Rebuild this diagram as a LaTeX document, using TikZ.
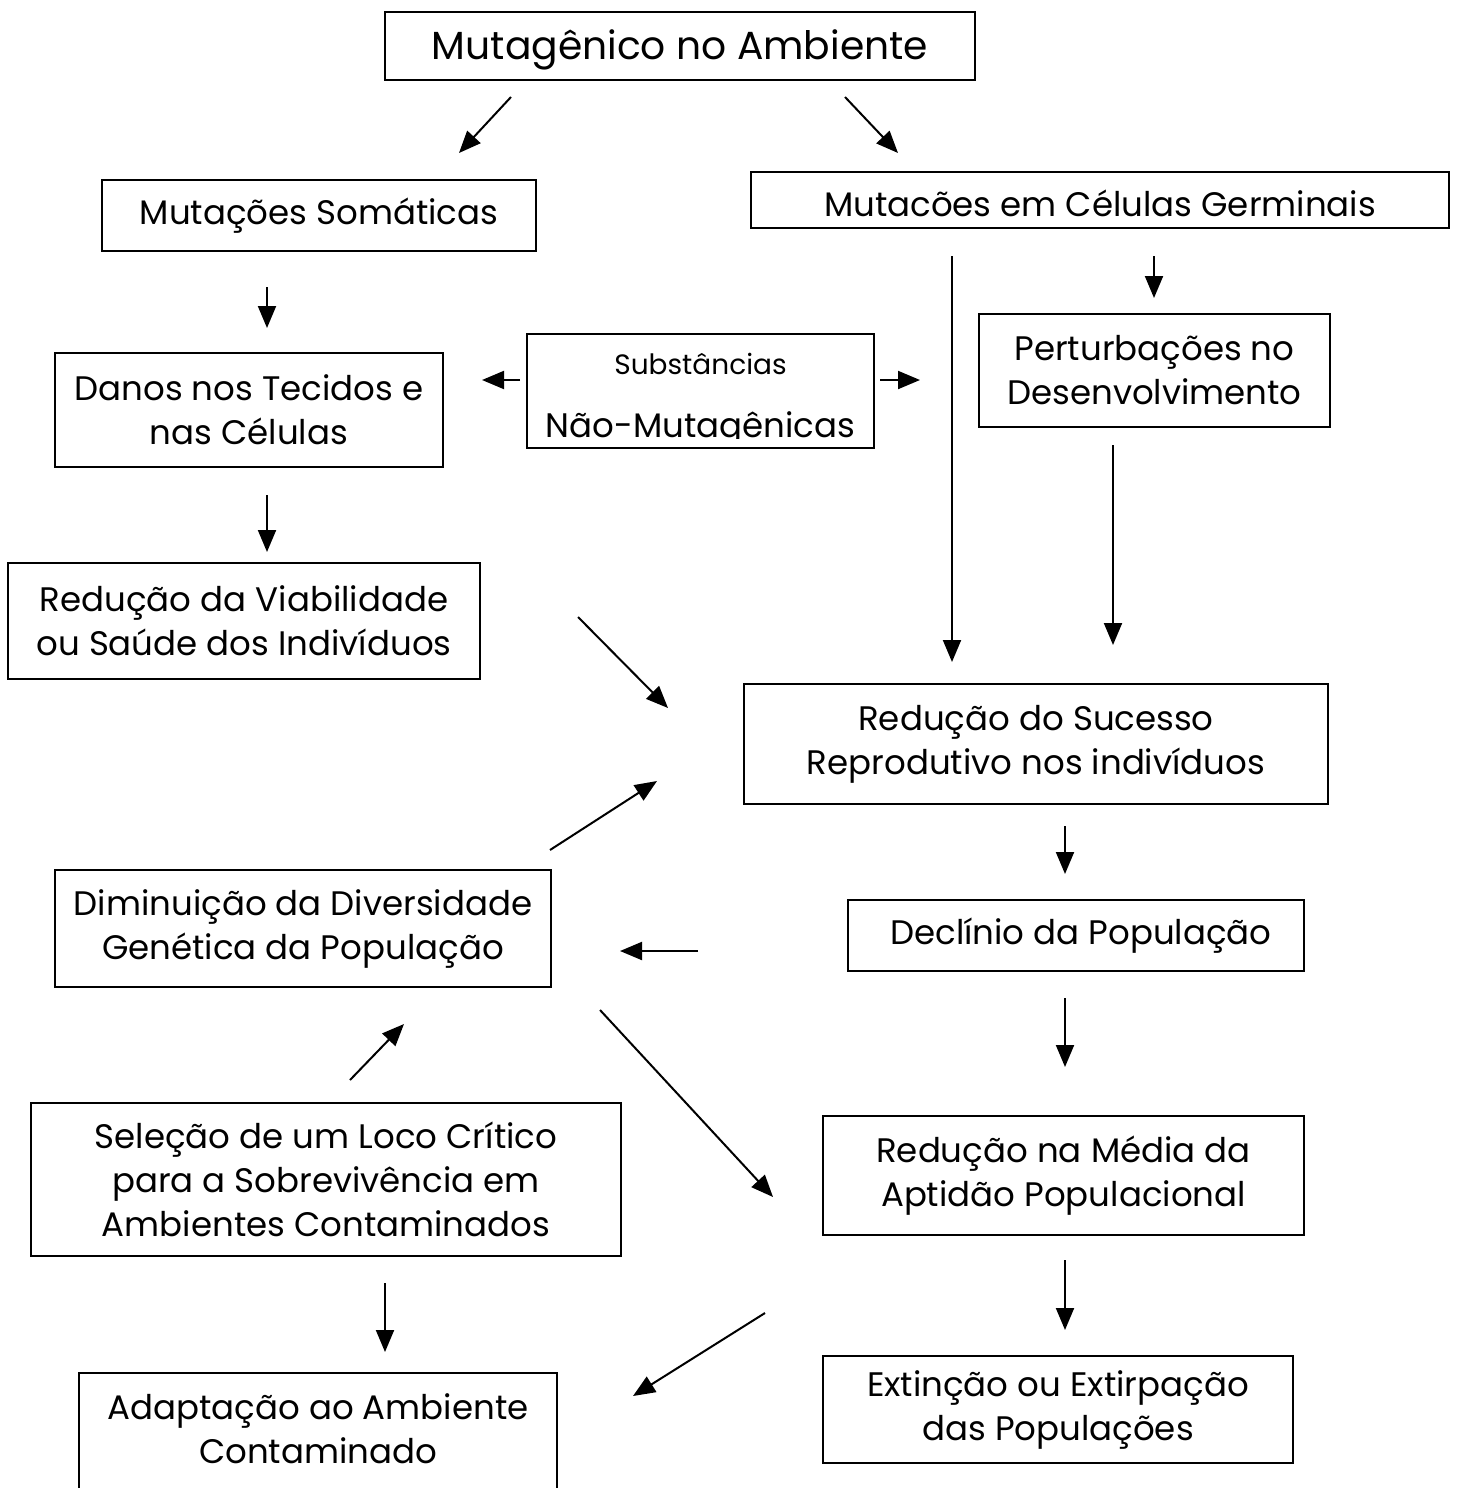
\documentclass[tikz,border=0pt]{standalone}
\usepackage{fontspec}
\setmainfont{Poppins}
\usetikzlibrary{arrows.meta}
\begin{document}
\begin{tikzpicture}[x=0.5pt,y=-0.5pt,
  box/.style={draw, line width=1pt, align=center, inner sep=0pt, font=\fontsize{17}{22}\selectfont},
  frame/.style={draw, line width=1pt, inner sep=0pt},
  txt/.style={inner sep=0pt, align=center, font=\fontsize{17}{22}\selectfont},
  arr/.style={line width=1pt, -{Triangle[length=11pt,width=9pt]}}]
\useasboundingbox (0,0) rectangle (1458,1488);
\clip (0,0) rectangle (1458,1488);
\fill[white] (0,0) rectangle (1458,1488);

% boxes
\node[frame, minimum width=295pt, minimum height=34pt] (title) at (680,46) {};
\node[txt, font=\fontsize{19.6}{24}\selectfont] (titletxt) at (680,50) {Mutagênico no Ambiente};
\node[box, minimum width=217pt, minimum height=35.5pt] (soma) at (319,215.5) {Mutações Somáticas};
\node[frame, minimum width=349pt, minimum height=28pt] (germ) at (1100,200) {};
\node[txt] (germtxt) at (1100,203) {Mutacões em Células Germinais};
\node[box, minimum width=194pt, minimum height=57pt] (danos) at (249,410) {Danos nos Tecidos e\\nas Células};
\node[frame, minimum width=173.5pt, minimum height=57pt] (subst) at (700.5,391) {};
\begin{scope}
\clip (527,334) rectangle (874,438);
\node[txt, font=\fontsize{14}{16}\selectfont] (substa) at (700.5,364) {Substâncias};
\node[txt, anchor=base] (substb) at (700.5,437) {Não-Mutagênicas};
\end{scope}
\node[box, minimum width=175.5pt, minimum height=56.5pt] (pert) at (1154.5,370.5) {Perturbações no\\Desenvolvimento};
\node[box, minimum width=236pt, minimum height=58pt] (viab) at (244,621) {Redução da Viabilidade\\ou Saúde dos Indivíduos};
\node[box, minimum width=292pt, minimum height=60pt] (suc) at (1036,744) {Redução do Sucesso\\Reprodutivo nos indivíduos};
\node[box, minimum width=248pt, minimum height=58.5pt] (div) at (303,928.5) {Diminuição da Diversidade\\Genética da População};
\node[frame, minimum width=228pt, minimum height=35.5pt] (decl) at (1076,935.5) {};
\node[txt] (decltxt) at (1081,935.5) {Declínio da População};
\node[box, minimum width=295pt, minimum height=76.5pt] (sel) at (326,1179.5) {Seleção de um Loco Crítico\\para a Sobrevivência em\\Ambientes Contaminados};
\node[box, minimum width=240.5pt, minimum height=59.5pt] (media) at (1063.5,1175.5) {Redução na Média da\\Aptidão Populacional};
\node[frame, minimum width=239pt, minimum height=61pt] (adapt) at (318,1434) {};
\node[txt] (adapttxt) at (318,1429) {Adaptação ao Ambiente\\Contaminado};
\node[box, minimum width=235pt, minimum height=53.5pt] (ext) at (1058,1409.5) {Extinção ou Extirpação\\das Populações};

% arrow endpoints
\coordinate (a1) at (511,97);   \coordinate (a2) at (459,153);
\coordinate (b1) at (845,97);   \coordinate (b2) at (898,153);
\coordinate (c1) at (267,287);  \coordinate (c2) at (267,328);
\coordinate (d1) at (1154,256); \coordinate (d2) at (1154,298);
\coordinate (e1) at (952,256);  \coordinate (e2) at (952,662);
\coordinate (f1) at (1113,445); \coordinate (f2) at (1113,645);
\coordinate (g1) at (520,380);  \coordinate (g2) at (482,380);
\coordinate (h1) at (880,380);  \coordinate (h2) at (920,380);
\coordinate (i1) at (267,495);  \coordinate (i2) at (267,552);
\coordinate (j1) at (578,617);  \coordinate (j2) at (668,708);
\coordinate (k1) at (550,850);  \coordinate (k2) at (657,781);
\coordinate (l1) at (1065,826); \coordinate (l2) at (1065,874);
\coordinate (m1) at (698,951);  \coordinate (m2) at (620,951);
\coordinate (n1) at (1065,998); \coordinate (n2) at (1065,1067);
\coordinate (o1) at (600,1010); \coordinate (o2) at (773,1197);
\coordinate (p1) at (350,1080); \coordinate (p2) at (404,1024);
\coordinate (q1) at (385,1283); \coordinate (q2) at (385,1352);
\coordinate (r1) at (1065,1260);\coordinate (r2) at (1065,1330);
\coordinate (s1) at (765,1313); \coordinate (s2) at (633,1396);

\foreach \u in {a,b,c,d,e,f,g,h,i,j,k,l,m,n,o,p,q,r,s}
  \draw[arr] (\u1) -- (\u2);
\end{tikzpicture}
\end{document}
